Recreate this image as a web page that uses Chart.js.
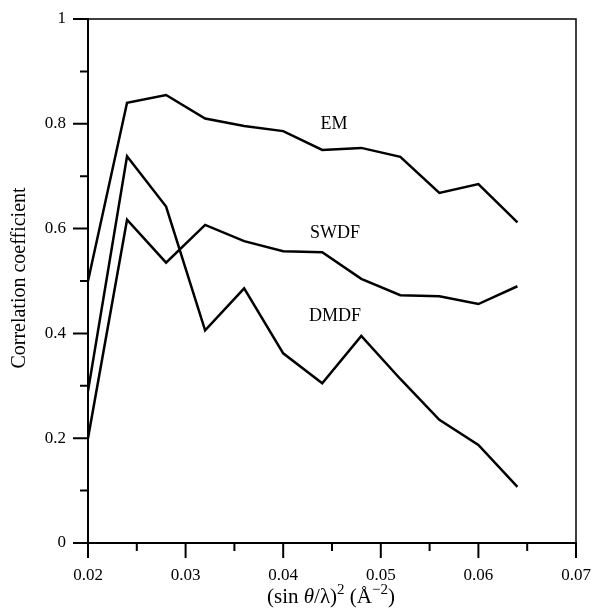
<!DOCTYPE html>
<html>
<head>
<meta charset="utf-8">
<script src="https://cdn.jsdelivr.net/npm/chart.js@4.4.0/dist/chart.umd.min.js"></script>
<style>
  html, body { margin: 0; padding: 0; background: #fff; }
  #wrap { width: 591px; height: 615px; }
</style>
</head>
<body>
<div id="wrap"><canvas id="corrChart" width="591" height="615"></canvas></div>
<script>
// (sin theta / lambda)^2 values
const sValues = [0.020, 0.024, 0.028, 0.032, 0.036, 0.040, 0.044, 0.048, 0.052, 0.056, 0.060, 0.064];
const emValues = [0.50, 0.840, 0.855, 0.810, 0.796, 0.786, 0.750, 0.754, 0.737, 0.668, 0.685, 0.612];
const swdfValues = [0.20, 0.617, 0.535, 0.607, 0.576, 0.557, 0.555, 0.504, 0.473, 0.471, 0.456, 0.490];
const dmdfValues = [0.29, 0.738, 0.642, 0.406, 0.486, 0.362, 0.305, 0.395, 0.313, 0.235, 0.187, 0.107];

const seriesNames = ['EM', 'SWDF', 'DMDF'];
const xTicks = [0.02, 0.03, 0.04, 0.05, 0.06, 0.07];
const xMinorTicks = [0.025, 0.035, 0.045, 0.055, 0.065];
const yTicks = [0, 0.2, 0.4, 0.6, 0.8, 1];
const yMinorTicks = [0.1, 0.3, 0.5, 0.7, 0.9];

// where the series names sit, in data units
const labelSpots = [[0.0452, 0.800], [0.0453, 0.592], [0.0453, 0.433]];

const serif = '"Liberation Serif", "DejaVu Serif", serif';

function toPoints(vals) {
    return vals.map((v, i) => ({ x: sValues[i], y: v }));
}

const framePlugin = {
    id: 'frame',
    afterDraw(chart) {
        const ctx = chart.ctx;
        const xs = chart.scales.x, ys = chart.scales.y;
        const a = chart.chartArea;
        ctx.save();
        ctx.strokeStyle = '#000';
        ctx.lineCap = 'square';

        // top + right border (thin)
        ctx.lineWidth = 1.5;
        ctx.beginPath();
        ctx.moveTo(a.left, a.top);
        ctx.lineTo(a.right, a.top);
        ctx.lineTo(a.right, a.bottom);
        ctx.stroke();

        // axes
        ctx.lineWidth = 2;
        ctx.beginPath();
        ctx.moveTo(a.left, a.top);
        ctx.lineTo(a.left, a.bottom);
        ctx.lineTo(a.right, a.bottom);
        ctx.stroke();

        ctx.lineCap = 'butt';
        ctx.beginPath();
        yTicks.forEach(v => {
            const py = ys.getPixelForValue(v);
            ctx.moveTo(a.left - 15, py);
            ctx.lineTo(a.left, py);
        });
        yMinorTicks.forEach(v => {
            const py = ys.getPixelForValue(v);
            ctx.moveTo(a.left - 8, py);
            ctx.lineTo(a.left, py);
        });
        xTicks.forEach(v => {
            const px = xs.getPixelForValue(v);
            ctx.moveTo(px, a.bottom);
            ctx.lineTo(px, a.bottom + 15);
        });
        xMinorTicks.forEach(v => {
            const px = xs.getPixelForValue(v);
            ctx.moveTo(px, a.bottom);
            ctx.lineTo(px, a.bottom + 8);
        });
        ctx.stroke();

        // series names
        ctx.fillStyle = '#000';
        ctx.font = '18px ' + serif;
        ctx.textAlign = 'center';
        ctx.textBaseline = 'middle';
        seriesNames.forEach((name, i) => {
            ctx.fillText(name, xs.getPixelForValue(labelSpots[i][0]), ys.getPixelForValue(labelSpots[i][1]));
        });

        // y title
        ctx.save();
        ctx.translate(20, (a.top + a.bottom) / 2 - 3);
        ctx.rotate(-Math.PI / 2);
        ctx.font = '20px ' + serif;
        ctx.fillText('Correlation coefficient', 0, 0);
        ctx.restore();

        // x title with superscripts
        const parts = [
            ['(sin ', '21px ' + serif, 0],
            ['θ', 'italic 21px ' + serif, 0],
            ['/λ)', '21px ' + serif, 0],
            ['2', '15px ' + serif, -9],
            [' (Å', '21px ' + serif, 0],
            ['−2', '15px ' + serif, -9],
            [')', '21px ' + serif, 0]
        ];
        let total = 0;
        parts.forEach(p => { ctx.font = p[1]; total += ctx.measureText(p[0]).width; });
        let cx = 331 - total / 2;
        const base = 603;
        ctx.textAlign = 'left';
        ctx.textBaseline = 'alphabetic';
        parts.forEach(p => {
            ctx.font = p[1];
            ctx.fillText(p[0], cx, base + p[2]);
            cx += ctx.measureText(p[0]).width;
        });
        ctx.restore();
    }
};

const ctxCorr = document.getElementById('corrChart').getContext('2d');
const corrChart = new Chart(ctxCorr, {
    type: 'line',
    data: {
        datasets: [{
            label: seriesNames[0],
            data: toPoints(emValues)
        }, {
            label: seriesNames[1],
            data: toPoints(swdfValues)
        }, {
            label: seriesNames[2],
            data: toPoints(dmdfValues)
        }]
    },
    options: {
        responsive: false,
        animation: false,
        layout: { padding: { top: 19, right: 15, left: 0, bottom: 0 } },
        elements: {
            line: { borderColor: '#000', borderWidth: 2.5, tension: 0, fill: false },
            point: { radius: 0 }
        },
        plugins: {
            legend: { display: false },
            tooltip: { enabled: false }
        },
        scales: {
            x: {
                type: 'linear',
                min: 0.02,
                max: 0.07,
                grid: { display: false, drawTicks: false },
                border: { display: false },
                afterBuildTicks: s => { s.ticks = xTicks.map(v => ({ value: v })); },
                afterFit: s => { s.height = 72; s.paddingLeft = 0; s.paddingRight = 0; },
                ticks: {
                    padding: 22,
                    color: '#000',
                    maxRotation: 0,
                    font: { family: serif, size: 17 },
                    callback: v => v.toFixed(2)
                }
            },
            y: {
                min: 0,
                max: 1,
                grid: { display: false, drawTicks: false },
                border: { display: false },
                afterBuildTicks: s => { s.ticks = yTicks.map(v => ({ value: v })); },
                afterFit: s => { s.width = 88; s.paddingTop = 0; s.paddingBottom = 0; },
                ticks: {
                    padding: 22,
                    color: '#000',
                    font: { family: serif, size: 17 },
                    callback: v => (v === 0 || v === 1) ? String(v) : v.toFixed(1)
                }
            }
        }
    },
    plugins: [framePlugin]
});
</script>
</body>
</html>
